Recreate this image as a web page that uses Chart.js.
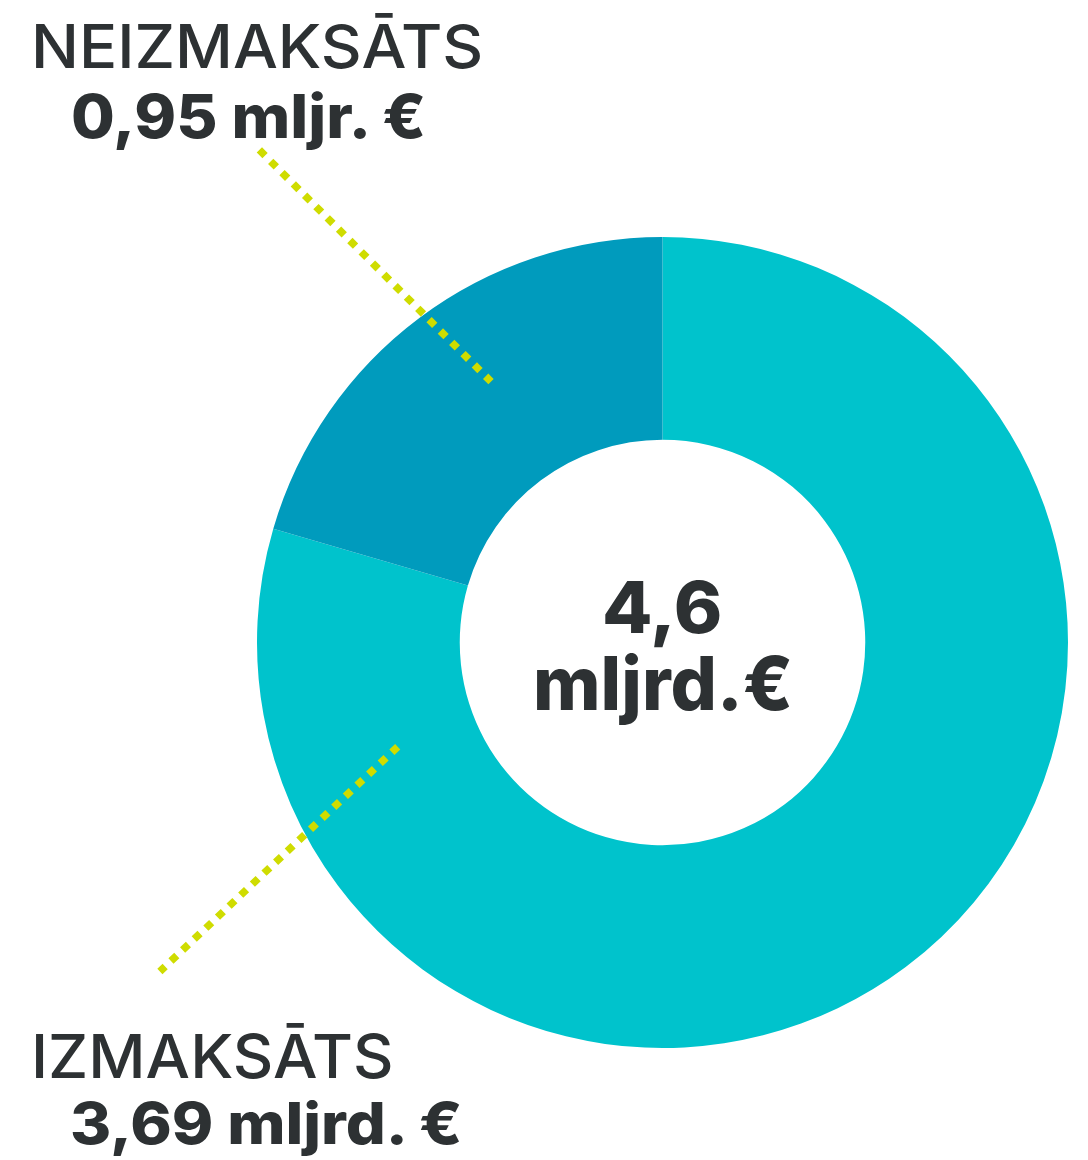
<!DOCTYPE html>
<html>
<head>
<meta charset="utf-8">
<script src="https://cdn.jsdelivr.net/npm/chart.js@4.4.1/dist/chart.umd.min.js"></script>
<style>
  html, body { margin: 0; padding: 0; background: #ffffff; }
  #wrap { position: relative; width: 1088px; height: 1160px; overflow: hidden; }
  #chart { position: absolute; left: 0; top: 0; }
  .lbl { position: absolute; white-space: nowrap; color: #2d3133; font-family: "Inter", "Noto Sans", sans-serif; line-height: 1; transform-origin: 0 0; }
</style>
</head>
<body>
<div id="wrap">
  <canvas id="chart" width="1088" height="1160"></canvas>
</div>
<script>
// ---- data ----
const categories = ["IZMAKSĀTS", "NEIZMAKSĀTS"];
const values = [3.69, 0.95];
const valueLabels = ["3,69 mljrd. €", "0,95 mljr. €"];
const totalLabel = ["4,6", "mljrd.€"];
const colors = ["#00c3cc", "#009bbd"];

const leaderColor = "#cfdc00";

const leaderPlugin = {
  id: "leaders",
  afterDraw(chart) {
    const arc = chart.getDatasetMeta(0).data[0];
    if (!arc) return;
    const cx = arc.x, cy = arc.y, R = arc.outerRadius;
    const lines = [
      [[-400.3 / 405.5, -489.7 / 405.5], [-174.3 / 405.5, -263.7 / 405.5]],
      [[-267.7 / 405.5, 107.0 / 405.5], [-499.7 / 405.5, 326.3 / 405.5]]
    ];
    const ctx = chart.ctx;
    ctx.save();
    ctx.strokeStyle = leaderColor;
    ctx.lineWidth = 7.5;
    ctx.lineCap = "butt";
    ctx.setLineDash([8, 8]);
    lines.forEach(([a, b]) => {
      const x1 = cx + a[0] * R, y1 = cy + a[1] * R;
      const x2 = cx + b[0] * R, y2 = cy + b[1] * R;
      const len = Math.hypot(x2 - x1, y2 - y1);
      const ux = (x2 - x1) / len, uy = (y2 - y1) / len;
      ctx.beginPath();
      ctx.moveTo(x1 - 4 * ux, y1 - 4 * uy);
      ctx.lineTo(x2 + 4 * ux, y2 + 4 * uy);
      ctx.stroke();
    });
    ctx.restore();
  }
};

new Chart(document.getElementById("chart"), {
  type: "doughnut",
  data: {
    labels: categories,
    datasets: [{
      data: values,
      backgroundColor: colors,
      borderWidth: 0,
      hoverOffset: 0
    }]
  },
  options: {
    responsive: false,
    animation: false,
    cutout: "50%",
    rotation: 0,
    layout: { padding: { left: 257, right: 20, top: 237, bottom: 112 } },
    plugins: { legend: { display: false }, tooltip: { enabled: false } }
  },
  plugins: [leaderPlugin]
});

// ---- text labels, fitted to ink boxes ----
const mctx = document.createElement("canvas").getContext("2d");
const FAM = '"Inter", "Noto Sans", sans-serif';
function place(text, weight, refGlyph, inkL, inkR, capTop, baseline) {
  mctx.font = weight + " 100px " + FAM;
  const ref = mctx.measureText(refGlyph).actualBoundingBoxAscent;
  const size = (baseline - capTop) / ref * 100;
  mctx.font = weight + " " + size + "px " + FAM;
  const m = mctx.measureText(text);
  const inkW = m.actualBoundingBoxLeft + m.actualBoundingBoxRight;
  const s = (inkR - inkL) / inkW;
  const A = m.fontBoundingBoxAscent, D = m.fontBoundingBoxDescent;
  const L = size;
  const baseOff = (L - (A + D)) / 2 + A;
  const el = document.createElement("div");
  el.className = "lbl";
  el.textContent = text;
  el.style.fontWeight = weight;
  el.style.fontSize = size + "px";
  el.style.left = (inkL + s * m.actualBoundingBoxLeft) + "px";
  el.style.top = (baseline - baseOff) + "px";
  el.style.transform = "scaleX(" + s + ")";
  document.getElementById("wrap").appendChild(el);
}
place(categories[1], 500, "H", 35, 480, 25, 69);
place(valueLabels[1], 800, "H", 73, 426, 95, 139);
place(categories[0], 500, "H", 35, 391, 1033.5, 1078);
place(valueLabels[0], 800, "H", 72, 462, 1103, 1145);
place(totalLabel[0], 800, "H", 605, 720, 582, 634);
place(totalLabel[1], 800, "l", 537, 790, 657, 711);
</script>
</body>
</html>
